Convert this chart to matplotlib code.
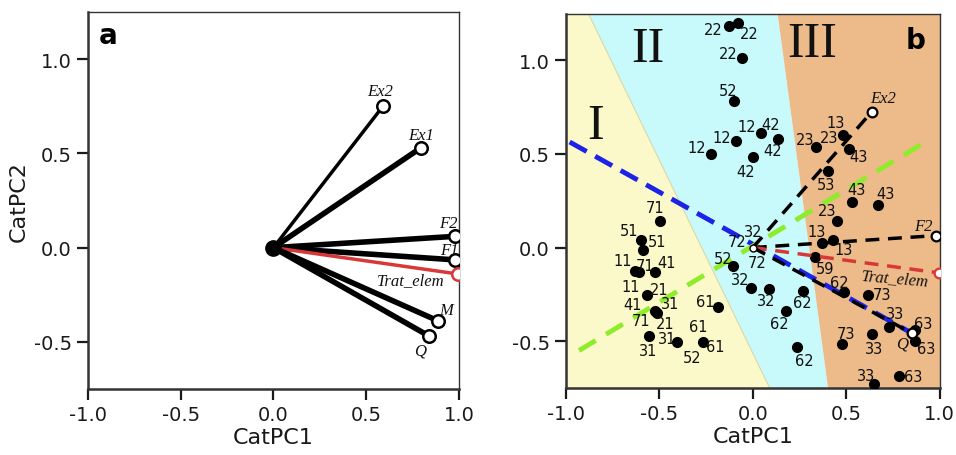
import numpy as np
import matplotlib
matplotlib.use("Agg")
import matplotlib.pyplot as plt


# -----------------------------
# 1 Data
# -----------------------------

# panel a: variable loadings
vec_names_a = ["Ex2", "Ex1", "F2", "F1", "Trat_elem", "M", "Q"]
vec_x_a = [0.59, 0.795, 0.98, 0.98, 0.995, 0.89, 0.84]
vec_y_a = [0.75, 0.53, 0.06, -0.065, -0.14, -0.39, -0.47]
vec_width_a = [2.5, 4.0, 4.0, 4.0, 2.5, 4.0, 4.0]
lab_x_a = [0.574, 0.795, 0.941, 0.946, 0.741, 0.930, 0.790]
lab_y_a = [0.833, 0.600, 0.133, -0.011, -0.175, -0.329, -0.546]

# panel b: loadings shown as dashed vectors
vec_names_b = ["Ex2", "F2", "Trat_elem", "Q"]
vec_x_b = [0.636, 0.979, 0.995, 0.85]
vec_y_b = [0.725, 0.064, -0.135, -0.457]
lab_x_b = [0.695, 0.914, 0.759, 0.797]
lab_y_b = [0.798, 0.117, -0.165, -0.511]

# panel b: object scores
obj_x = [-0.128, -0.080, -0.059, -0.102, -0.091, -0.225, 0.043, 0.134, 0.000,
         0.337, 0.481, 0.513, 0.401, 0.529, 0.668, 0.449, 0.369, 0.428, 0.332,
         0.487, 0.615, 0.727, 0.870, 0.866, 0.476, 0.636, 0.647, 0.781,
         -0.107, -0.011, 0.086, 0.267, 0.176, 0.235, -0.187, -0.267, -0.406,
         -0.497, -0.599, -0.588, -0.628, -0.610, -0.524, -0.567, -0.524, -0.513,
         -0.556]
obj_y = [1.186, 1.202, 1.011, 0.782, 0.569, 0.500, 0.612, 0.580, 0.484,
         0.537, 0.601, 0.527, 0.410, 0.245, 0.229, 0.144, 0.027, 0.043, -0.048,
         -0.239, -0.255, -0.426, -0.440, -0.500, -0.516, -0.463, -0.729, -0.686,
         -0.101, -0.218, -0.223, -0.234, -0.340, -0.532, -0.319, -0.505, -0.505,
         0.144, 0.043, -0.011, -0.125, -0.133, -0.133, -0.255, -0.340, -0.351,
         -0.473]

# panel b: object labels
obj_labels = ["22", "22", "22", "52", "12", "12", "12", "42", "42", "42",
              "13", "23", "23", "43", "53", "43", "43", "23", "13", "13",
              "59", "62", "73", "33", "63", "63", "73", "33", "33", "63",
              "32", "72", "72", "52", "32", "32", "62", "62", "62",
              "61", "61", "61", "52",
              "71", "51", "51", "11", "71", "41", "11", "21", "31", "41",
              "71", "21", "31", "31"]
obj_lab_x = [-0.214, -0.021, -0.134, -0.134, -0.166, -0.299, -0.032, 0.096, 0.107, -0.037,
             0.444, 0.278, 0.406, 0.567, 0.390, 0.556, 0.711, 0.396, 0.342, 0.487,
             0.385, 0.465, 0.690, 0.759, 0.909, 0.930, 0.497, 0.647, 0.604, 0.856,
             0.000, -0.086, 0.021, -0.160, -0.070, 0.070, 0.267, 0.139, 0.273,
             -0.257, -0.294, -0.203, -0.326,
             -0.524, -0.663, -0.513, -0.695, -0.578, -0.460, -0.652, -0.500, -0.440, -0.645,
             -0.600, -0.471, -0.460, -0.561]
obj_lab_y = [1.165, 1.144, 1.037, 0.840, 0.590, 0.537, 0.649, 0.660, 0.516, 0.404,
             0.670, 0.580, 0.590, 0.484, 0.335, 0.309, 0.287, 0.197, 0.085, -0.011,
             -0.112, -0.186, -0.250, -0.351, -0.404, -0.537, -0.457, -0.537, -0.681, -0.691,
             0.085, 0.032, -0.080, -0.059, -0.170, -0.282, -0.293, -0.404, -0.601,
             -0.287, -0.420, -0.527, -0.585,
             0.213, 0.090, 0.032, -0.069, -0.096, -0.080, -0.207, -0.222, -0.300, -0.305,
             -0.390, -0.404, -0.484, -0.548]

# panel b: group regions (x of the boundaries at top / bottom of the plot)
bound1_x = [-0.88, 0.09]
bound2_x = [0.13, 0.40]
region_names = ["I", "II", "III"]
region_x = [-0.84, -0.56, 0.32]
region_y = [0.65, 1.06, 1.09]

# panel b: extra dashed axes
blue_x = [-0.98, 0.85]
blue_y = [0.564, -0.457]
green_x = [-0.93, 0.95]
green_y = [-0.55, 0.58]

ticks_x = [-1.0, -0.5, 0.0, 0.5, 1.0]
ticks_y = [-0.5, 0.0, 0.5, 1.0]
xlim = (-1.0, 1.0)
ylim = (-0.75, 1.25)


# -----------------------------
# 2 Figure
# -----------------------------

fig = plt.figure(figsize=(9.56, 4.56), dpi=100)
ax_a = fig.add_axes([0.092, 0.145, 0.388, 0.826])
ax_b = fig.add_axes([0.592, 0.147, 0.391, 0.821])

serif = "Liberation Serif"


def style_axes(ax):
    ax.set_xlim(*xlim)
    ax.set_ylim(*ylim)
    ax.set_xticks(ticks_x)
    ax.set_yticks(ticks_y)
    ax.set_xticklabels(["%.1f" % t for t in ticks_x])
    ax.set_yticklabels(["%.1f" % t for t in ticks_y])
    ax.tick_params(direction="out", length=8, width=1.6, labelsize=14,
                   colors="#1a1a1a")
    for s in ax.spines.values():
        s.set_linewidth(1.0)
        s.set_color("#333333")
    ax.spines["left"].set_linewidth(1.8)
    ax.spines["bottom"].set_linewidth(1.8)
    ax.set_xlabel("CatPC1", fontsize=16, color="#1a1a1a", labelpad=2)


# -----------------------------
# 3 Panel a
# -----------------------------

style_axes(ax_a)
ax_a.set_ylabel("CatPC2", fontsize=16, color="#1a1a1a", labelpad=4)

for name, x, y, w, lx, ly in zip(vec_names_a, vec_x_a, vec_y_a, vec_width_a, lab_x_a, lab_y_a):
    col = "#d93838" if name == "Trat_elem" else "black"
    ax_a.plot([0, x], [0, y], color=col, lw=w, solid_capstyle="round", zorder=2)
    ax_a.plot(x, y, "o", ms=9, mfc="white", mec=col, mew=1.8, zorder=3)
    ax_a.text(lx, ly, name, ha="center", va="center", fontsize=12,
              family=serif, style="italic", color="#111111")

ax_a.plot(0, 0, "o", ms=11, color="black", zorder=4)
ax_a.text(-0.94, 1.13, "a", fontsize=20, fontweight="bold", ha="left", va="center")


# -----------------------------
# 4 Panel b
# -----------------------------

style_axes(ax_b)

yy = np.array([ylim[1], ylim[0]])
ax_b.fill_betweenx(yy, [xlim[0], xlim[0]], bound1_x, color="#fbf8c9", lw=0, zorder=0)
ax_b.fill_betweenx(yy, bound1_x, bound2_x, color="#c8f9fb", lw=0, zorder=0)
ax_b.fill_betweenx(yy, bound2_x, [xlim[1], xlim[1]], color="#edbb89", lw=0, zorder=0)
ax_b.plot(bound1_x, yy, color="#d8d8a8", lw=0.8, zorder=0.5)

for name, x, y in zip(region_names, region_x, region_y):
    ax_b.text(x, y, name, fontsize=36, family=serif, ha="center", va="center", color="#111111")
ax_b.text(0.82, 1.11, "b", fontsize=20, fontweight="bold", ha="left", va="center")

ax_b.plot(blue_x, blue_y, color="#1c22e6", lw=3.5, dashes=(4, 2), zorder=2)
ax_b.plot(green_x, green_y, color="#8fec2a", lw=3.5, dashes=(4, 2.5), zorder=2)

ax_b.plot(obj_x, obj_y, "o", ms=7, color="black", zorder=3)
for t, x, y in zip(obj_labels, obj_lab_x, obj_lab_y):
    ax_b.text(x, y, t, fontsize=10.5, ha="center", va="center", color="#111111", zorder=4)

for name, x, y, lx, ly in zip(vec_names_b, vec_x_b, vec_y_b, lab_x_b, lab_y_b):
    col = "#d93838" if name == "Trat_elem" else "black"
    ax_b.plot([0, x], [0, y], color=col, lw=2.5, dashes=(4, 2.5), zorder=3.5)
    ax_b.plot(x, y, "o", ms=7, mfc="white", mec=col, mew=1.6, zorder=5)
    rot = -5 if name == "Trat_elem" else 0
    ax_b.text(lx, ly, name, ha="center", va="center", fontsize=12, rotation=rot,
              family=serif, style="italic", color="#111111", zorder=5)

ax_b.plot(0, 0, "o", ms=5, mfc="white", mec="black", mew=1.0, zorder=5)

fig.savefig("out.png", dpi=100)
